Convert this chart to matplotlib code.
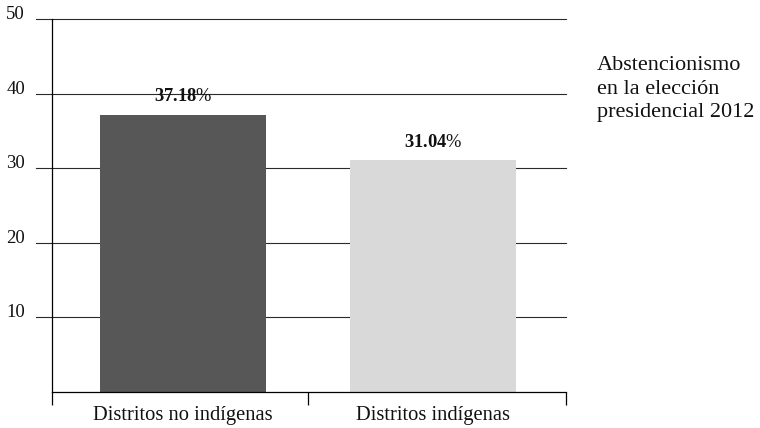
import matplotlib
matplotlib.use("Agg")
import matplotlib.pyplot as plt
import matplotlib.transforms as mtransforms

categories = ["Distritos no indígenas", "Distritos indígenas"]
values = [37.18, 31.04]
bar_colors = ["#575757", "#d9d9d9"]
y_ticks = [10, 20, 30, 40, 50]
title_lines = ["Abstencionismo", "en la elección", "presidencial 2012"]

SERIF = "Liberation Serif"
plt.rcParams["font.family"] = [SERIF, "DejaVu Serif"]
plt.rcParams["mathtext.fontset"] = "custom"
plt.rcParams["mathtext.rm"] = SERIF
plt.rcParams["mathtext.bf"] = SERIF + ":bold"
plt.rcParams["mathtext.it"] = SERIF + ":italic"

W, H, DPI = 760, 428, 100
fig = plt.figure(figsize=(W / DPI, H / DPI), dpi=DPI)

# axes box in pixels: x 52..566, y (top) 19..392
x0, x1, ytop, ybot = 52, 566, 19, 392
ax = fig.add_axes([x0 / W, (H - ybot) / H, (x1 - x0) / W, (ybot - ytop) / H])
ax.set_xlim(-0.525, 1.533)
ax.set_ylim(0, 50)

for s in ["top", "right"]:
    ax.spines[s].set_visible(False)
for s in ["left", "bottom"]:
    ax.spines[s].set_linewidth(0.9)
    ax.spines[s].set_color("black")

# horizontal reference lines reaching a little left of the axis
grid_trans = mtransforms.blended_transform_factory(ax.transAxes, ax.transData)
left_ext = -16 / (x1 - x0)
for t in y_ticks:
    ax.plot([left_ext, 1], [t, t], color="#2a2a2a", lw=0.8,
            transform=grid_trans, clip_on=False, zorder=1)
    ax.text(-27 / (x1 - x0), t, str(t), transform=grid_trans,
            ha="right", va="baseline", fontsize=13.5, color="#111111")

ax.set_yticks([])

# bars
xs = list(range(len(categories)))
ax.bar(xs, values, width=0.665, color=bar_colors, zorder=2)

for x, v in zip(xs, values):
    ax.annotate(r"$\mathbf{%.2f}\mathit{\%%}$" % v, (x, v),
                xytext=(0, 7), textcoords="offset points",
                ha="center", va="bottom", fontsize=13.3, color="#111111")

# category labels and separators below the axis
ax.set_xticks(xs)
ax.set_xticklabels(categories, fontsize=14.8, color="#111111")
ax.tick_params(axis="x", which="major", length=0, pad=10)
ax.set_xticks([-0.525, 0.5, 1.533], minor=True)
ax.tick_params(axis="x", which="minor", length=9.5, width=0.9,
               direction="out", color="black")

# side title
for i, line in enumerate(title_lines):
    fig.text(597 / W, 1 - (66 + 23 * i) / H, line, fontsize=16,
             ha="left", va="center", color="#111111")

fig.savefig("out.png", dpi=DPI)
